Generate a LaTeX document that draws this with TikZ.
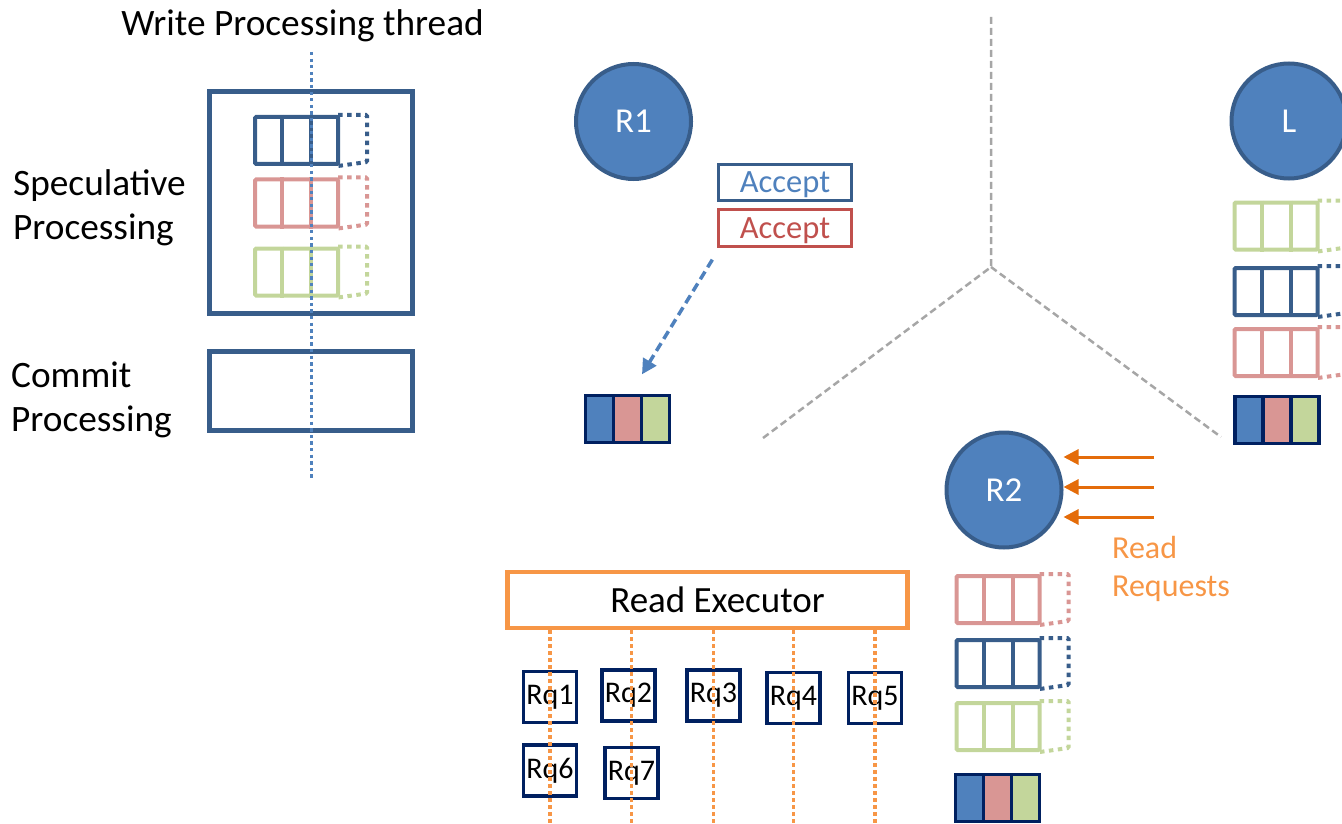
\documentclass[tikz,border=0pt]{standalone}
\usepackage{fontspec}
\setmainfont{Carlito}
\usetikzlibrary{arrows.meta,calc}

\definecolor{frameblue}{HTML}{385D8A}
\definecolor{fillblue}{HTML}{4F81BD}
\definecolor{qpink}{HTML}{D99694}
\definecolor{qgreen}{HTML}{C3D69B}
\definecolor{navy}{HTML}{002060}
\definecolor{execorange}{HTML}{F79646}
\definecolor{arroworange}{HTML}{E46C0A}
\definecolor{acceptred}{HTML}{C0504D}
\definecolor{divgray}{HTML}{A6A6A6}

\tikzset{
  big/.style={font=\fontsize{37.3}{44}\selectfont},
  stagebox/.style={draw=frameblue, line width=4.5pt, rectangle, inner sep=0pt},
  queuebox/.style={rectangle, line width=4pt, rounded corners=1.2pt,
    minimum width=83pt, minimum height=47pt, inner sep=0pt},
  queuediv/.style={line width=4pt},
  queuetail/.style={line width=4pt, dash pattern=on 4.5pt off 4.5pt, rounded corners=1.2pt},
  cell/.style={rectangle, draw=navy, line width=3.3pt, minimum width=28pt,
    minimum height=47pt, inner sep=0pt},
  replica/.style={circle, fill=fillblue, draw=frameblue, line width=4pt,
    minimum size=115pt, inner sep=0pt, text=white, font=\fontsize{35}{40}\selectfont},
  acceptbox/.style={rectangle, line width=3.3pt, minimum width=133pt,
    inner sep=0pt, font=\fontsize{32.5}{36}\selectfont},
  acceptarrow/.style={draw=fillblue, line width=3.5pt, dash pattern=on 9pt off 5pt,
    -{Triangle[length=15pt,width=15pt,fill=fillblue]}},
  divider/.style={draw=divgray, line width=2.5pt, dash pattern=on 7pt off 4pt},
  reqarrow/.style={draw=arroworange, line width=3pt,
    -{Triangle[length=15pt,width=15pt,fill=arroworange]}},
  execbox/.style={rectangle, draw=execorange, line width=4.5pt, minimum width=400pt,
    minimum height=56pt, inner sep=0pt, font=\fontsize{37}{42}\selectfont},
  rqbox/.style={rectangle, draw=navy, line width=3.3pt, minimum width=53pt,
    minimum height=51pt, inner sep=0pt, font=\fontsize{30}{34}\selectfont},
  execdots/.style={draw=execorange, line width=3.5pt, dash pattern=on 3.5pt off 3.5pt},
  threaddots/.style={draw=fillblue, line width=3pt, dash pattern=on 3.3pt off 3.3pt},
}

% a log queue: three solid slots and an open dotted tail
\newcommand{\logqueue}[4]{%
  \node[queuebox, draw=#2] (#1) at (#3,#4) {};
  \draw[queuediv, #2] ($(#1.north west)!1/3!(#1.north east)$) -- ($(#1.south west)!1/3!(#1.south east)$);
  \draw[queuediv, #2] ($(#1.north west)!2/3!(#1.north east)$) -- ($(#1.south west)!2/3!(#1.south east)$);
  \draw[queuetail, #2] ([xshift=-2pt]#1.north east) -- ++(29,0) -- ++(0,47) -- ([xshift=-2pt]#1.south east);
}
% a committed block of three coloured entries
\newcommand{\logblock}[3]{%
  \node[cell, fill=fillblue] (#1a) at ({#2-28},#3) {};
  \node[cell, fill=qpink] (#1b) at (#2,#3) {};
  \node[cell, fill=qgreen] (#1c) at ({#2+28},#3) {};
}

\begin{document}
\begin{tikzpicture}[x=1pt, y=-1pt]
\useasboundingbox (0,0) rectangle (1342,824);

% region dividers
\coordinate (hub) at (991,267);
\coordinate (divtop) at (991,17);
\coordinate (divleft) at (763,438);
\coordinate (divright) at (1221,437);
\draw[divider] (divtop) -- (hub) -- (divleft);
\draw[divider] (hub) -- (divright);

% write processing pipeline
\node[big, anchor=base] (wlabel) at (302.5,36) {Write Processing thread};
\node[stagebox, minimum width=203pt, minimum height=222pt] (spec) at (311,202.5) {};
\node[stagebox, minimum width=203pt, minimum height=79pt] (commit) at (311,391) {};
\node[big, anchor=west, align=left, inner sep=0pt] (speclbl) at (13,208) {Speculative\\Processing};
\node[big, anchor=west, align=left, inner sep=0pt] (commitlbl) at (11,399.5) {Commit\\Processing};
\logqueue{wq1}{frameblue}{296.5}{140.5}
\logqueue{wq2}{qpink}{296.5}{203}
\logqueue{wq3}{qgreen}{296.5}{272}

% replica R1
\node[replica] (R1) at (633.5,121.5) {R1};
\node[acceptbox, draw=frameblue, text=fillblue, minimum height=36pt] (acc1) at (785,182.5) {\raisebox{-2.5pt}[\height][\depth]{Accept}};
\node[acceptbox, draw=acceptred, text=acceptred, minimum height=37pt] (acc2) at (785,228) {\raisebox{-2.5pt}[\height][\depth]{Accept}};
\logblock{blkA}{627.5}{419}
\coordinate (accfrom) at ($(acc2.south west)+(-4.5,11.5)$);
\coordinate (accto) at ($(blkAb.north)+(14.5,-19.5)$);
\draw[acceptarrow] (accfrom) -- (accto);

% leader L
\node[replica] (L) at (1289,121) {L};
\logqueue{lq1}{qgreen}{1276}{226}
\logqueue{lq2}{frameblue}{1276}{291.5}
\logqueue{lq3}{qpink}{1276}{352.5}
\logblock{blkL}{1277}{420}

% replica R2 with incoming reads
\node[replica] (R2) at (1004,490) {R2};
\coordinate (rr1) at (1154,457);
\coordinate (rr2) at (1154,487);
\coordinate (rr3) at (1154,517);
\draw[reqarrow] (rr1) -- (rr1 -| R2.east);
\draw[reqarrow] (rr2) -- (rr2 -| R2.east);
\draw[reqarrow] (rr3) -- (rr3 -| R2.east);
\node[anchor=west, align=left, inner sep=0pt, text=execorange,
  font=\fontsize{32}{38}\selectfont] (rrlabel) at (1112,569) {Read\\Requests};
\logqueue{rq1q}{qpink}{998}{599.5}
\logqueue{rq2q}{frameblue}{998}{663.5}
\logqueue{rq3q}{qgreen}{998}{726.5}
\logblock{blkR}{997.5}{798}

% read executor and its requests
\node[execbox] (exec) at (707.5,600) {\hspace*{20pt}Read Executor};
\node[rqbox] (rq1) at (550,697) {Rq1};
\node[rqbox] (rq2) at (628.5,695.5) {Rq2};
\node[rqbox] (rq3) at (713.5,695.5) {Rq3};
\node[rqbox] (rq4) at (793.5,698) {Rq4};
\node[rqbox] (rq5) at (875,698) {Rq5};
\node[rqbox] (rq6) at (550,770.5) {Rq6};
\node[rqbox] (rq7) at (631.5,773) {Rq7};
\coordinate (rqbottom) at (0,824);
\foreach \col in {rq1,rq7,rq3,rq4,rq5}
  \draw[execdots] (exec.south -| \col) -- (\col |- rqbottom);

% write processing thread timeline
\coordinate (wtop) at (311,52);
\coordinate (wbottom) at (311,478);
\draw[threaddots] (wtop) -- (wbottom);
\end{tikzpicture}
\end{document}
